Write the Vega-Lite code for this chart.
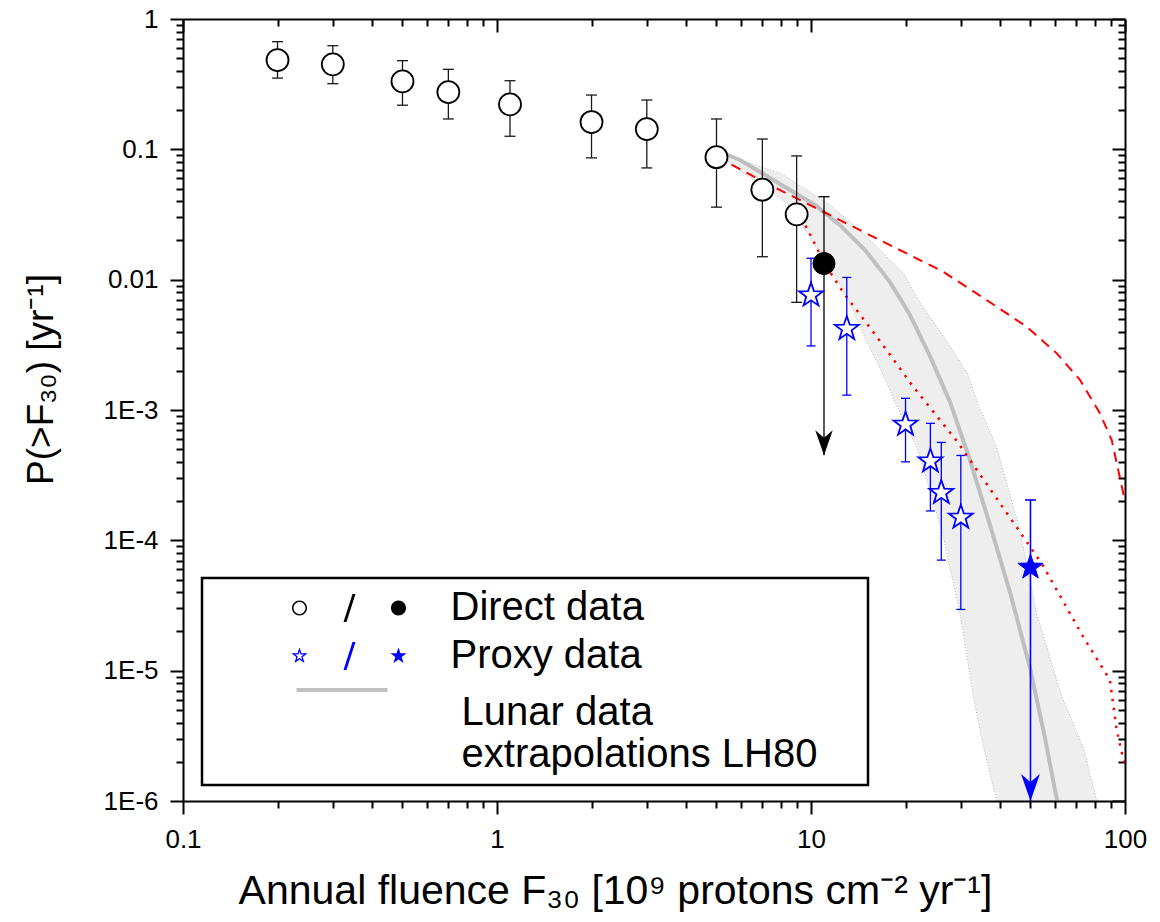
{
  "$schema": "https://vega.github.io/schema/vega-lite/v6.json",
  "width": 942,
  "height": 782,
  "autosize": "none",
  "padding": {"left": 183, "top": 19, "right": 35, "bottom": 121},
  "background": "#ffffff",
  "config": {"view": {"stroke": null}, "font": "Liberation Sans", "legend": {"strokeWidth": 2.5}},
  "datasets": {
    "band": [
      {"y": 0.095, "lo": 5.0, "hi": 5.0},
      {"y": 0.0655, "lo": 6.1, "hi": 8.0},
      {"y": 0.0385, "lo": 8.4, "hi": 11.3},
      {"y": 0.024, "lo": 9.6, "hi": 14.3},
      {"y": 0.0112, "lo": 11.8, "hi": 19.7},
      {"y": 0.0066, "lo": 13.3, "hi": 22.3},
      {"y": 0.0034, "lo": 15.0, "hi": 27.0},
      {"y": 0.0019, "lo": 16.9, "hi": 31.5},
      {"y": 0.00106, "lo": 18.8, "hi": 34.3},
      {"y": 0.00052, "lo": 21.7, "hi": 39.0},
      {"y": 0.00012, "lo": 26.1, "hi": 46.3},
      {"y": 0.0000275, "lo": 29.8, "hi": 52.3},
      {"y": 0.0000063, "lo": 32.9, "hi": 63.0},
      {"y": 0.0000026, "lo": 35.4, "hi": 73.6},
      {"y": 0.000001, "lo": 39.0, "hi": 81.3}
    ],
    "lunar": [
      {"x": 4.98, "y": 0.0988},
      {"x": 5.94, "y": 0.0828},
      {"x": 7.14, "y": 0.0635},
      {"x": 8.57, "y": 0.0487},
      {"x": 10.3, "y": 0.0374},
      {"x": 12.37, "y": 0.0262},
      {"x": 14.86, "y": 0.01688},
      {"x": 17.85, "y": 0.00958},
      {"x": 20.67, "y": 0.00535},
      {"x": 23.93, "y": 0.00259},
      {"x": 27.72, "y": 0.00115},
      {"x": 32.09, "y": 0.000412},
      {"x": 37.16, "y": 0.000131},
      {"x": 43.03, "y": 0.00004},
      {"x": 49.83, "y": 0.0000105},
      {"x": 55.63, "y": 0.00000303},
      {"x": 60.74, "y": 0.00000101}
    ],
    "dashed": [
      {"x": 5.0, "y": 0.088},
      {"x": 7.23, "y": 0.0548},
      {"x": 10.94, "y": 0.0332},
      {"x": 16.58, "y": 0.0201},
      {"x": 26.38, "y": 0.0115},
      {"x": 36.27, "y": 0.00697},
      {"x": 48.63, "y": 0.00435},
      {"x": 60.62, "y": 0.00272},
      {"x": 71.9, "y": 0.0017},
      {"x": 83.25, "y": 0.000942},
      {"x": 90.7, "y": 0.000587},
      {"x": 95.0, "y": 0.000352},
      {"x": 100, "y": 0.0002}
    ],
    "dotted": [
      {"x": 9.6, "y": 0.026},
      {"x": 9.96, "y": 0.022},
      {"x": 11.0, "y": 0.0135},
      {"x": 12.7, "y": 0.0079},
      {"x": 16.2, "y": 0.00365},
      {"x": 21.2, "y": 0.0015},
      {"x": 29.1, "y": 0.00058},
      {"x": 47.5, "y": 0.000106},
      {"x": 55.0, "y": 0.000063},
      {"x": 73.6, "y": 0.0000182},
      {"x": 89.5, "y": 0.0000085},
      {"x": 94.1, "y": 0.0000035},
      {"x": 100, "y": 0.00000183}
    ],
    "direct_open": [
      {"series": "Direct data", "x": 0.2, "y": 0.484, "lo": 0.352, "hi": 0.67},
      {"series": "Direct data", "x": 0.3, "y": 0.449, "lo": 0.319, "hi": 0.624},
      {"series": "Direct data", "x": 0.5, "y": 0.332, "lo": 0.218, "hi": 0.479},
      {"series": "Direct data", "x": 0.7, "y": 0.275, "lo": 0.171, "hi": 0.411},
      {"series": "Direct data", "x": 1.1, "y": 0.221, "lo": 0.126, "hi": 0.336},
      {"series": "Direct data", "x": 2.0, "y": 0.162, "lo": 0.086, "hi": 0.261},
      {"series": "Direct data", "x": 3.0, "y": 0.143, "lo": 0.072, "hi": 0.239},
      {"series": "Direct data", "x": 5.0, "y": 0.087, "lo": 0.036, "hi": 0.171},
      {"series": "Direct data", "x": 7.0, "y": 0.049, "lo": 0.015, "hi": 0.12},
      {"series": "Direct data", "x": 9.0, "y": 0.0317, "lo": 0.0067, "hi": 0.089}
    ],
    "direct_limit": [
      {"series": "Direct data", "x": 11, "y": 0.0133, "lo": 0.00045, "hi": 0.0433}
    ],
    "proxy_open": [
      {"series": "Proxy data", "x": 10, "y": 0.0076, "lo": 0.0031, "hi": 0.0146},
      {"series": "Proxy data", "x": 13, "y": 0.0042, "lo": 0.0013, "hi": 0.0104},
      {"series": "Proxy data", "x": 20, "y": 0.000775, "lo": 0.0004, "hi": 0.00123},
      {"series": "Proxy data", "x": 24, "y": 0.000405, "lo": 0.000168, "hi": 0.00079},
      {"series": "Proxy data", "x": 26, "y": 0.000232, "lo": 0.0000705, "hi": 0.000564},
      {"series": "Proxy data", "x": 30, "y": 0.00015, "lo": 0.0000295, "hi": 0.000448}
    ],
    "proxy_limit": [
      {"series": "Proxy data", "x": 50, "y": 0.000062, "lo": 0.000001, "hi": 0.000204}
    ]
  },
  "resolve": {"axis": {"x": "independent", "y": "independent"}},
  "layer": [
    {
      "data": {"name": "band"},
      "mark": {"type": "area", "orient": "horizontal", "fill": "#e2e2e2", "fillOpacity": 0.6, "stroke": "#a8a8a8", "strokeWidth": 0.8, "strokeDash": [1, 2], "clip": true},
      "encoding": {
        "y": {"field": "y", "type": "quantitative", "scale": {"type": "log", "domain": [0.000001, 1], "nice": false},
          "axis": {"orient": "left", "values": [1, 0.1, 0.01, 0.001, 0.0001, 0.00001, 0.000001],
            "labelExpr": "datum.value >= 0.01 ? format(datum.value, '~g') : '1E' + round(log(datum.value) / LN10)",
            "ticks": true, "tickSize": 13, "tickWidth": 2, "tickColor": "#000000", "grid": false,
            "domain": true, "domainColor": "#000000", "domainWidth": 2, "zindex": 1,
            "labelFontSize": 26, "labelColor": "#000000", "labelPadding": 12, "labelFlush": false, "labelOverlap": false,
            "title": "P(>F₃₀) [yr⁻¹]", "titleFontSize": 37, "titleFontWeight": "normal", "titleColor": "#000000",
            "titleX": -131, "titleY": 360, "titleAngle": 270, "titleAlign": "center", "titleBaseline": "alphabetic"}},
        "x": {"field": "lo", "type": "quantitative", "scale": {"type": "log", "domain": [0.1, 100], "nice": false},
          "axis": {"orient": "bottom", "values": [0.1, 1, 10, 100], "format": "~g",
            "ticks": true, "tickSize": 13, "tickWidth": 2, "tickColor": "#000000", "grid": false,
            "domain": true, "domainColor": "#000000", "domainWidth": 2, "zindex": 1,
            "labelFontSize": 26, "labelColor": "#000000", "labelPadding": 12, "labelFlush": false, "labelOverlap": false,
            "title": "Annual fluence F₃₀ [10⁹ protons cm⁻² yr⁻¹]", "titleFontSize": 41, "titleFontWeight": "normal", "titleColor": "#000000",
            "titleX": 432, "titleY": 102, "titleAlign": "center", "titleBaseline": "alphabetic"}},
        "x2": {"field": "hi"}
      }
    },
    {
      "data": {"name": "lunar"},
      "mark": {"type": "line", "stroke": "#bfbfbf", "strokeWidth": 4, "clip": true},
      "encoding": {
        "x": {"field": "x", "type": "quantitative", "scale": {"type": "log", "domain": [0.1, 100], "nice": false},
          "axis": {"orient": "bottom", "values": [0.2,0.3,0.4,0.5,0.6,0.7,0.8,0.9,2,3,4,5,6,7,8,9,20,30,40,50,60,70,80,90],
            "ticks": true, "tickSize": 7, "tickWidth": 2, "tickColor": "#000000", "domain": false, "labels": false, "grid": false, "title": null}},
        "y": {"field": "y", "type": "quantitative", "scale": {"type": "log", "domain": [0.000001, 1], "nice": false},
          "axis": {"orient": "left", "values": [0.9,0.8,0.7,0.6,0.5,0.4,0.3,0.2,0.09,0.08,0.07,0.06,0.05,0.04,0.03,0.02,0.009,0.008,0.007,0.006,0.005,0.004,0.003,0.002,0.0009,0.0008,0.0007,0.0006,0.0005,0.0004,0.0003,0.0002,0.00009,0.00008,0.00007,0.00006,0.00005,0.00004,0.00003,0.00002,0.000009,0.000008,0.000007,0.000006,0.000005,0.000004,0.000003,0.000002],
            "ticks": true, "tickSize": 7, "tickWidth": 2, "tickColor": "#000000", "domain": false, "labels": false, "grid": false, "title": null}}
      }
    },
    {
      "data": {"name": "dashed"},
      "mark": {"type": "line", "stroke": "#ff0000", "strokeWidth": 2, "strokeDash": [10, 7], "clip": true},
      "encoding": {
        "x": {"field": "x", "type": "quantitative", "scale": {"type": "log", "domain": [0.1, 100], "nice": false},
          "axis": {"orient": "top", "values": [0.1, 1, 10, 100], "ticks": true, "tickSize": -13, "tickWidth": 2, "tickColor": "#000000", "grid": false,
            "domain": true, "domainColor": "#000000", "domainWidth": 2, "labels": false, "title": null, "zindex": 1}},
        "y": {"field": "y", "type": "quantitative", "scale": {"type": "log", "domain": [0.000001, 1], "nice": false},
          "axis": {"orient": "right", "values": [1, 0.1, 0.01, 0.001, 0.0001, 0.00001, 0.000001], "ticks": true, "tickSize": -13, "tickWidth": 2, "tickColor": "#000000", "grid": false,
            "domain": true, "domainColor": "#000000", "domainWidth": 2, "labels": false, "title": null, "zindex": 1}}
      }
    },
    {
      "data": {"name": "dotted"},
      "mark": {"type": "line", "stroke": "#ff0000", "strokeWidth": 2.5, "strokeDash": [2.5, 6.5], "clip": true},
      "encoding": {
        "x": {"field": "x", "type": "quantitative", "scale": {"type": "log", "domain": [0.1, 100], "nice": false},
          "axis": {"orient": "top", "values": [0.2,0.3,0.4,0.5,0.6,0.7,0.8,0.9,2,3,4,5,6,7,8,9,20,30,40,50,60,70,80,90],
            "ticks": true, "tickSize": -7, "tickWidth": 2, "tickColor": "#000000", "domain": false, "labels": false, "grid": false, "title": null}},
        "y": {"field": "y", "type": "quantitative", "scale": {"type": "log", "domain": [0.000001, 1], "nice": false},
          "axis": {"orient": "right", "values": [0.9,0.8,0.7,0.6,0.5,0.4,0.3,0.2,0.09,0.08,0.07,0.06,0.05,0.04,0.03,0.02,0.009,0.008,0.007,0.006,0.005,0.004,0.003,0.002,0.0009,0.0008,0.0007,0.0006,0.0005,0.0004,0.0003,0.0002,0.00009,0.00008,0.00007,0.00006,0.00005,0.00004,0.00003,0.00002,0.000009,0.000008,0.000007,0.000006,0.000005,0.000004,0.000003,0.000002],
            "ticks": true, "tickSize": -7, "tickWidth": 2, "tickColor": "#000000", "domain": false, "labels": false, "grid": false, "title": null}}
      }
    },
    {
      "data": {"name": "direct_open"},
      "mark": {"type": "rule", "stroke": "#1a1a1a", "strokeWidth": 1.3, "opacity": 1},
      "encoding": {
        "x": {"field": "x", "type": "quantitative", "scale": {"type": "log", "domain": [0.1, 100], "nice": false}, "axis": null},
        "y": {"field": "lo", "type": "quantitative", "scale": {"type": "log", "domain": [0.000001, 1], "nice": false}, "axis": null},
        "y2": {"field": "hi"}
      }
    },
    {
      "data": {"name": "direct_open"},
      "mark": {"type": "tick", "orient": "horizontal", "size": 11, "thickness": 1.3, "color": "#1a1a1a", "opacity": 1},
      "encoding": {
        "x": {"field": "x", "type": "quantitative", "scale": {"type": "log", "domain": [0.1, 100], "nice": false}, "axis": null},
        "y": {"field": "lo", "type": "quantitative", "scale": {"type": "log", "domain": [0.000001, 1], "nice": false}, "axis": null}
      }
    },
    {
      "data": {"name": "direct_open"},
      "mark": {"type": "tick", "orient": "horizontal", "size": 11, "thickness": 1.3, "color": "#1a1a1a", "opacity": 1},
      "encoding": {
        "x": {"field": "x", "type": "quantitative", "scale": {"type": "log", "domain": [0.1, 100], "nice": false}, "axis": null},
        "y": {"field": "hi", "type": "quantitative", "scale": {"type": "log", "domain": [0.000001, 1], "nice": false}, "axis": null}
      }
    },
    {
      "data": {"name": "direct_limit"},
      "mark": {"type": "rule", "stroke": "#000000", "strokeWidth": 1.3, "opacity": 1},
      "encoding": {
        "x": {"field": "x", "type": "quantitative", "scale": {"type": "log", "domain": [0.1, 100], "nice": false}, "axis": null},
        "y": {"field": "lo", "type": "quantitative", "scale": {"type": "log", "domain": [0.000001, 1], "nice": false}, "axis": null},
        "y2": {"field": "hi"}
      }
    },
    {
      "data": {"name": "direct_limit"},
      "mark": {"type": "tick", "orient": "horizontal", "size": 11, "thickness": 1.3, "color": "#000000", "opacity": 1},
      "encoding": {
        "x": {"field": "x", "type": "quantitative", "scale": {"type": "log", "domain": [0.1, 100], "nice": false}, "axis": null},
        "y": {"field": "hi", "type": "quantitative", "scale": {"type": "log", "domain": [0.000001, 1], "nice": false}, "axis": null}
      }
    },
    {
      "data": {"name": "direct_limit"},
      "mark": {"type": "point", "shape": "M0,0L-0.7,-2L0,-1.4L0.7,-2Z", "size": 625, "filled": true, "fill": "#000000", "strokeWidth": 0, "opacity": 1},
      "encoding": {
        "x": {"field": "x", "type": "quantitative", "scale": {"type": "log", "domain": [0.1, 100], "nice": false}, "axis": null},
        "y": {"field": "lo", "type": "quantitative", "scale": {"type": "log", "domain": [0.000001, 1], "nice": false}, "axis": null}
      }
    },
    {
      "data": {"name": "proxy_open"},
      "mark": {"type": "rule", "stroke": "#0000ff", "strokeWidth": 1.3, "opacity": 1},
      "encoding": {
        "x": {"field": "x", "type": "quantitative", "scale": {"type": "log", "domain": [0.1, 100], "nice": false}, "axis": null},
        "y": {"field": "lo", "type": "quantitative", "scale": {"type": "log", "domain": [0.000001, 1], "nice": false}, "axis": null},
        "y2": {"field": "hi"}
      }
    },
    {
      "data": {"name": "proxy_open"},
      "mark": {"type": "tick", "orient": "horizontal", "size": 9, "thickness": 1.3, "color": "#0000ff", "opacity": 1},
      "encoding": {
        "x": {"field": "x", "type": "quantitative", "scale": {"type": "log", "domain": [0.1, 100], "nice": false}, "axis": null},
        "y": {"field": "lo", "type": "quantitative", "scale": {"type": "log", "domain": [0.000001, 1], "nice": false}, "axis": null}
      }
    },
    {
      "data": {"name": "proxy_open"},
      "mark": {"type": "tick", "orient": "horizontal", "size": 9, "thickness": 1.3, "color": "#0000ff", "opacity": 1},
      "encoding": {
        "x": {"field": "x", "type": "quantitative", "scale": {"type": "log", "domain": [0.1, 100], "nice": false}, "axis": null},
        "y": {"field": "hi", "type": "quantitative", "scale": {"type": "log", "domain": [0.000001, 1], "nice": false}, "axis": null}
      }
    },
    {
      "data": {"name": "proxy_limit"},
      "mark": {"type": "rule", "stroke": "#0000ff", "strokeWidth": 1.6, "opacity": 1},
      "encoding": {
        "x": {"field": "x", "type": "quantitative", "scale": {"type": "log", "domain": [0.1, 100], "nice": false}, "axis": null},
        "y": {"field": "lo", "type": "quantitative", "scale": {"type": "log", "domain": [0.000001, 1], "nice": false}, "axis": null},
        "y2": {"field": "hi"}
      }
    },
    {
      "data": {"name": "proxy_limit"},
      "mark": {"type": "tick", "orient": "horizontal", "size": 11, "thickness": 1.6, "color": "#0000ff", "opacity": 1},
      "encoding": {
        "x": {"field": "x", "type": "quantitative", "scale": {"type": "log", "domain": [0.1, 100], "nice": false}, "axis": null},
        "y": {"field": "hi", "type": "quantitative", "scale": {"type": "log", "domain": [0.000001, 1], "nice": false}, "axis": null}
      }
    },
    {
      "data": {"name": "proxy_limit"},
      "mark": {"type": "point", "shape": "M0,0L-0.7,-2L0,-1.4L0.7,-2Z", "size": 729, "filled": true, "fill": "#0000ff", "strokeWidth": 0, "opacity": 1},
      "encoding": {
        "x": {"field": "x", "type": "quantitative", "scale": {"type": "log", "domain": [0.1, 100], "nice": false}, "axis": null},
        "y": {"field": "lo", "type": "quantitative", "scale": {"type": "log", "domain": [0.000001, 1], "nice": false}, "axis": null}
      }
    },
    {
      "data": {"name": "direct_open"},
      "mark": {"type": "point", "shape": "circle", "size": 484, "filled": true, "fill": "#ffffff", "stroke": "#000000", "strokeWidth": 1.8, "opacity": 1},
      "encoding": {
        "x": {"field": "x", "type": "quantitative", "scale": {"type": "log", "domain": [0.1, 100], "nice": false}, "axis": null},
        "y": {"field": "y", "type": "quantitative", "scale": {"type": "log", "domain": [0.000001, 1], "nice": false}, "axis": null}
      }
    },
    {
      "data": {"name": "direct_limit"},
      "mark": {"type": "point", "shape": "circle", "size": 484, "filled": true, "fill": "#000000", "stroke": "#000000", "strokeWidth": 1, "opacity": 1},
      "encoding": {
        "x": {"field": "x", "type": "quantitative", "scale": {"type": "log", "domain": [0.1, 100], "nice": false}, "axis": null},
        "y": {"field": "y", "type": "quantitative", "scale": {"type": "log", "domain": [0.000001, 1], "nice": false}, "axis": null}
      }
    },
    {
      "data": {"name": "proxy_open"},
      "mark": {"type": "point", "shape": "M0,-1L0.235,-0.324L0.951,-0.309L0.38,0.124L0.588,0.809L0,0.4L-0.588,0.809L-0.38,0.124L-0.951,-0.309L-0.235,-0.324Z", "size": 635, "filled": true, "fill": "#ffffff", "stroke": "#0000ff", "strokeWidth": 1.8, "opacity": 1},
      "encoding": {
        "x": {"field": "x", "type": "quantitative", "scale": {"type": "log", "domain": [0.1, 100], "nice": false}, "axis": null},
        "y": {"field": "y", "type": "quantitative", "scale": {"type": "log", "domain": [0.000001, 1], "nice": false}, "axis": null}
      }
    },
    {
      "data": {"name": "proxy_limit"},
      "mark": {"type": "point", "shape": "M0,-1L0.235,-0.324L0.951,-0.309L0.38,0.124L0.588,0.809L0,0.4L-0.588,0.809L-0.38,0.124L-0.951,-0.309L-0.235,-0.324Z", "size": 700, "filled": true, "fill": "#0000ff", "stroke": "#0000ff", "strokeWidth": 1, "opacity": 1},
      "encoding": {
        "x": {"field": "x", "type": "quantitative", "scale": {"type": "log", "domain": [0.1, 100], "nice": false}, "axis": null},
        "y": {"field": "y", "type": "quantitative", "scale": {"type": "log", "domain": [0.000001, 1], "nice": false}, "axis": null}
      }
    },
    {
      "data": {"name": "direct_open"},
      "mark": {"type": "point", "opacity": 0, "filled": true},
      "encoding": {
        "x": {"field": "x", "type": "quantitative", "scale": {"type": "log", "domain": [0.1, 100], "nice": false}, "axis": null},
        "y": {"field": "y", "type": "quantitative", "scale": {"type": "log", "domain": [0.000001, 1], "nice": false}, "axis": null},
        "fill": {"field": "series", "type": "nominal",
          "scale": {"domain": ["Direct data", "Proxy data", "Lunar data"], "range": ["#000000", "#0000ff", "transparent"]}},
        "stroke": {"field": "series", "type": "nominal",
          "scale": {"domain": ["Direct data", "Proxy data", "Lunar data"], "range": ["transparent", "transparent", "#c0c0c0"]}},
        "shape": {
          "field": "series", "type": "nominal",
          "scale": {
            "domain": ["Direct data", "Proxy data", "Lunar data"],
            "range": [
              "M-7.1875,0A0.9375,0.9375 0 1 0 -5.3125,0A0.9375,0.9375 0 1 0 -7.1875,0ZM-7,0A0.75,0.75 0 1 1 -5.5,0A0.75,0.75 0 1 1 -7,0ZM-0.75,1.75L-0.375,1.75L0.75,-1.75L0.375,-1.75ZM5.1875,0A0.9375,0.9375 0 1 0 7.0625,0A0.9375,0.9375 0 1 0 5.1875,0ZM62.5,0",
              "M-6.25,-1.0625L-6.0003,-0.3443L-5.2396,-0.3283L-5.8462,0.1318L-5.6252,0.8596L-6.25,0.425L-6.8748,0.8596L-6.6538,0.1318L-7.2604,-0.3283L-6.4997,-0.3443ZM-6.25,-0.5738L-6.3848,-0.1859L-6.7956,-0.1773L-6.468,0.0711L-6.5874,0.4642L-6.25,0.2295L-5.9126,0.4642L-6.032,0.0711L-5.7044,-0.1773L-6.1152,-0.1859ZM-0.75,1.75L-0.375,1.75L0.75,-1.75L0.375,-1.75ZM6.125,-1.0625L6.3747,-0.3443L7.1354,-0.3283L6.5288,0.1318L6.7498,0.8596L6.125,0.425L5.5002,0.8596L5.7212,0.1318L5.1146,-0.3283L5.8753,-0.3443Z",
              "M-6.625,-2.875L4.75,-2.875"
            ]
          },
          "legend": {
            "orient": "none", "legendX": 19, "legendY": 559, "direction": "vertical", "title": null,
            "padding": 10, "strokeColor": "#000000", "fillColor": "#ffffff",
            "symbolSize": 256, "symbolOffset": 117.5, "labelOffset": 81, "rowPadding": 4, "symbolOpacity": 1, "symbolStrokeWidth": 4,
            "labelFontSize": 40, "labelColor": "#000000", "labelLimit": 700, "labelBaseline": "middle",
            "labelExpr": "datum.value === 'Lunar data' ? ['\u200b\u00a0Lunar data', '\u200b\u00a0extrapolations LH80'] : datum.label"
          }
        }
      }
    }
  ]
}
